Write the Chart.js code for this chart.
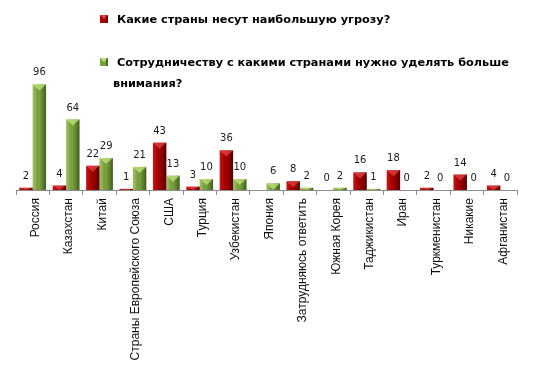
<!DOCTYPE html>
<html><head><meta charset="utf-8">
<script src="https://cdn.jsdelivr.net/npm/chart.js@4"></script>
<style>html,body{margin:0;padding:0;background:#fff}#wrap{width:545px;height:383px;position:relative}</style>
</head><body><div id="wrap"><canvas id="c" width="545" height="383"></canvas></div>
<script>
const categories = ['Россия','Казахстан','Китай','Страны Европейского Союза','США','Турция','Узбекистан','Япония','Затрудняюсь ответить','Южная Корея','Таджикистан','Иран','Туркменистан','Никакие','Афганистан'];
const threatValues = [2,4,22,1,43,3,36,null,8,0,16,18,2,14,4];
const coopValues = [96,64,29,21,13,10,10,6,2,2,1,0,0,0,0];
const seriesNames = ['Какие страны несут наибольшую угрозу?',' Сотрудничеству с какими странами нужно уделять больше', 'внимания?'];

const RED = '#a80000', GREEN = '#79a23c';

const barStyle = {
  id:'barStyle',
  afterDatasetsDraw(chart){
    const ctx = chart.ctx;
    chart.data.datasets.forEach((ds,di)=>{
      const meta = chart.getDatasetMeta(di);
      meta.data.forEach((el,i)=>{
        if (ds.data[i]===null) return;
        const w = el.width, x0 = el.x - w/2, x1 = el.x + w/2, top = el.y, bot = el.base;
        const h = bot - top;
        if (h <= 0.5) return;
        ctx.save();
        const g = ctx.createLinearGradient(x0,0,x1,0);
        if (di===0){
          g.addColorStop(0,'rgba(255,60,60,0.4)');
          g.addColorStop(0.2,'rgba(255,40,40,0.2)');
          g.addColorStop(0.5,'rgba(0,0,0,0.05)');
          g.addColorStop(0.8,'rgba(0,0,0,0.3)');
          g.addColorStop(1,'rgba(0,0,0,0.5)');
        } else {
          g.addColorStop(0,'rgba(255,255,200,0.3)');
          g.addColorStop(0.2,'rgba(255,255,200,0.15)');
          g.addColorStop(0.5,'rgba(0,0,0,0)');
          g.addColorStop(0.8,'rgba(0,0,0,0.25)');
          g.addColorStop(1,'rgba(0,0,0,0.45)');
        }
        ctx.fillStyle = g;
        ctx.fillRect(x0,top,w,h);
        const th = Math.min(h, w*0.45);
        ctx.beginPath();
        ctx.moveTo(x0,top); ctx.lineTo(x1,top); ctx.lineTo(el.x, top+th); ctx.closePath();
        ctx.fillStyle = di===0 ? 'rgba(255,90,90,0.55)' : 'rgba(190,230,120,0.75)';
        ctx.fill();
        ctx.restore();
      });
    });
    ctx.save();
    ctx.font = '10px "DejaVu Sans"';
    ctx.fillStyle = '#1a1a1a';
    ctx.textAlign = 'center';
    ctx.textBaseline = 'alphabetic';
    chart.data.datasets.forEach((ds,di)=>{
      const meta = chart.getDatasetMeta(di);
      meta.data.forEach((el,i)=>{
        const v = ds.data[i];
        if (v===null) return;
        ctx.fillText(String(v), el.x, el.y - 9);
      });
    });
    ctx.restore();
  },
  afterDraw(chart){
    const ctx = chart.ctx;
    ctx.save();
    ctx.font = 'bold 11.3px "DejaVu Sans"';
    ctx.textBaseline = 'alphabetic';
    const drawMarker = (x,y,color,light)=>{
      ctx.fillStyle = color; ctx.fillRect(x,y,8,8);
      ctx.fillStyle = light;
      ctx.beginPath(); ctx.moveTo(x,y); ctx.lineTo(x+8,y); ctx.lineTo(x+4,y+4); ctx.closePath(); ctx.fill();
      ctx.fillStyle='rgba(0,0,0,0.35)'; ctx.fillRect(x+6,y,2,8);
    };
    drawMarker(100,15,RED,'rgba(255,90,90,0.7)');
    drawMarker(100,58,GREEN,'rgba(190,230,120,0.9)');
    ctx.fillStyle = '#000';
    ctx.fillText(seriesNames[0],117,23);
    ctx.fillText(seriesNames[1],113,66);
    ctx.fillText(seriesNames[2],113,87);
    ctx.restore();
  }
};

new Chart(document.getElementById('c'),{
  type:'bar',
  data:{labels:categories,datasets:[
    {label:seriesNames[0],data:threatValues,backgroundColor:RED,categoryPercentage:0.8,barPercentage:1},
    {label:seriesNames[1]+' '+seriesNames[2],data:coopValues,backgroundColor:GREEN,categoryPercentage:0.8,barPercentage:1}
  ]},
  options:{
    responsive:false,animation:false,
    layout:{padding:{left:16,right:28,top:80,bottom:0}},
    plugins:{legend:{display:false},tooltip:{enabled:false}},
    scales:{
      y:{display:false,min:0,max:100},
      x:{
        grid:{display:true,drawOnChartArea:false,drawTicks:true,tickLength:5,color:'#8c8c8c',offset:true},
        border:{display:true,color:'#8c8c8c',width:1},
        ticks:{autoSkip:false,minRotation:90,maxRotation:90,padding:3,labelOffset:3,color:'#111',font:{family:'"Liberation Sans", Arial',size:12}},
        afterFit(s){ s.height = 193; }
      }
    }
  },
  plugins:[barStyle]
});
</script></body></html>
